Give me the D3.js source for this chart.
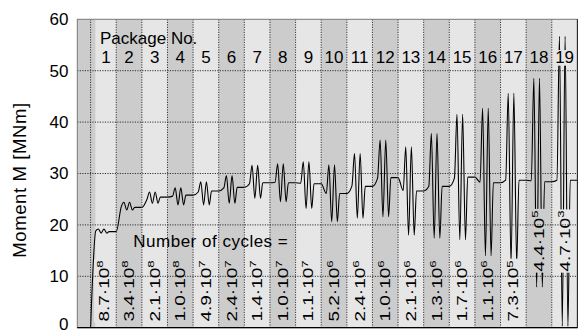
<!DOCTYPE html>
<html>
<head>
<meta charset="utf-8">
<script src="https://cdn.jsdelivr.net/npm/d3@7"></script>
<style>
  body { margin: 0; background: #fff; }
  svg { display: block; font-family: "Liberation Sans", Arial, Helvetica, sans-serif; }
</style>
</head>
<body>
<svg id="chart" width="588" height="333"></svg>
<script>
// Load packages of the test programme
const packages = d3.range(1, 20);

// Number of cycles per package, written as mantissa · 10^exponent
const cycleMantissa = ["8.7", "3.4", "2.1", "1.0", "4.9", "2.4", "1.4", "1.0", "1.1", "5.2",
                       "2.4", "1.0", "2.1", "1.3", "1.7", "1.1", "7.3", "4.4", "4.7"];
const cycleExponent = ["8", "8", "8", "8", "7", "7", "7", "7", "7", "6",
                       "6", "6", "6", "6", "6", "6", "5", "5", "3"];

// Moment levels in each package [MNm]
const rampLevel   = [18.8, 23.6, 25.0, 25.6, 26.4, 27.2, 28.0, 28.3, 28.1, 26.1,
                     27.6, 29.1, 26.7, 27.5, 29.1, 28.3, 28.7, 28.6, 28.7];
const peakLevel   = [19.2, 24.4, 26.4, 27.2, 28.4, 29.6, 31.6, 31.9, 32.3, 31.7,
                     33.9, 36.5, 35.2, 37.8, 41.5, 42.7, 45.6, 48.5, 56.7];
const troughLevel = [18.4, 22.9, 24.2, 23.9, 23.9, 24.2, 25.2, 24.5, 23.2, 20.6,
                     21.3, 21.6, 18.0, 17.4, 17.1, 14.0, 12.5, 7.9, 0.3];
const meanLevel   = [18.7, 23.4, 25.4, 25.8, 26.6, 27.3, 28.2, 28.2, 28.0, 26.1,
                     27.5, 29.2, 26.6, 27.5, 29.3, 28.2, 28.7, 28.4, 28.7];

// Position of ramp end, peak, trough, peak, trough and return within a package
const cyclePhase = [0.2, 0.3, 0.41, 0.52, 0.63, 0.72];

// Axis ticks
const yTicks = [0, 10, 20, 30, 40, 50, 60];

const svg = d3.select("#chart");
const margin = { left: 77.3, right: 10.6, top: 19.3, bottom: 5.3 };
const W = 588, H = 333;

const x = d3.scaleLinear().domain([-0.52, 19]).range([margin.left, W - margin.right]);
const y = d3.scaleLinear().domain([0, 60]).range([H - margin.bottom, margin.top]);

const DARK = "#cccccc", LIGHT = "#e6e6e6";

// Background bands: run-in section, then one band per package
const bands = [{ u0: x.domain()[0], u1: 0.2, fill: DARK }];
packages.forEach((p, i) => {
  bands.push({ u0: i === 0 ? 0.2 : i, u1: i + 1, fill: i % 2 === 0 ? LIGHT : DARK });
});

svg.append("clipPath").attr("id", "plot-clip")
  .append("rect")
  .attr("x", x.range()[0]).attr("y", y.range()[1])
  .attr("width", x.range()[1] - x.range()[0])
  .attr("height", y.range()[0] - y.range()[1]);

const plot = svg.append("g").attr("clip-path", "url(#plot-clip)");

plot.selectAll("rect.band").data(bands).join("rect")
  .attr("class", "band")
  .attr("x", d => x(d.u0)).attr("width", d => x(d.u1) - x(d.u0))
  .attr("y", y(60)).attr("height", y(0) - y(60))
  .attr("fill", d => d.fill);

// Moment time history
const pts = [];
packages.forEach((p, i) => {
  if (i === 0) pts.push([0, 0]);
  pts.push([i + cyclePhase[0], rampLevel[i]]);
  pts.push([i + cyclePhase[1], peakLevel[i]]);
  pts.push([i + cyclePhase[2], troughLevel[i]]);
  pts.push([i + cyclePhase[3], peakLevel[i]]);
  pts.push([i + cyclePhase[4], troughLevel[i]]);
  pts.push([i + cyclePhase[5], meanLevel[i]]);
  pts.push([i + 1, meanLevel[i]]);
});

const line = d3.line()
  .x(d => x(d[0])).y(d => y(d[1]))
  .curve(d3.curveMonotoneX);

plot.append("path")
  .datum(pts)
  .attr("d", line)
  .attr("fill", "none")
  .attr("stroke", "#000")
  .attr("stroke-width", 1.1)
  .attr("stroke-linejoin", "round");

// Label layers: boxes hide the curve, grid is drawn over boxes, text on top
const boxLayer = svg.append("g");
const gridLayer = svg.append("g");
const textLayer = svg.append("g");

// Cycle count labels, rotated, in each package column
const rotFont = 19, rotSquash = 0.74;
packages.forEach((p, i) => {
  const fill = bands[i + 1].fill;
  const cx = x(i === 0 ? 0.5 : i + 0.5);
  const base = p >= 18 ? y(10.9) : y(1.2);
  const tf = `translate(${cx},${base}) rotate(-90) scale(1,${rotSquash})`;
  const g = textLayer.append("g").attr("transform", tf);
  const t = g.append("text")
    .attr("x", 0).attr("y", rotFont * 0.36)
    .attr("font-size", rotFont)
    .attr("fill", "#000");
  t.append("tspan").text(cycleMantissa[i] + "\u00b7" + "10");
  t.append("tspan").attr("dy", -rotFont * 0.42).attr("font-size", rotFont * 0.7).text(cycleExponent[i]);
  const bb = t.node().getBBox();
  const top = rotFont * 0.36 - rotFont * 0.42 - rotFont * 0.7 * 0.72 - 2;
  boxLayer.append("rect")
    .attr("transform", tf)
    .attr("x", bb.x - 1).attr("y", top)
    .attr("width", bb.width + 2)
    .attr("height", rotFont * 0.36 - top + 2)
    .attr("fill", fill);
});

// Package numbers
const numFont = 17;
packages.forEach((p, i) => {
  const fill = bands[i + 1].fill;
  const cx = x(i === 0 ? 0.6 : i + 0.5);
  const base = 63.3;
  const t = textLayer.append("text")
    .attr("x", cx).attr("y", base)
    .attr("text-anchor", "middle")
    .attr("font-size", numFont)
    .attr("fill", "#000")
    .text(p);
  const bb = t.node().getBBox();
  boxLayer.append("rect")
    .attr("x", bb.x - 1).attr("y", base - numFont * 0.78)
    .attr("width", bb.width + 2).attr("height", numFont * 0.92)
    .attr("fill", fill);
});

textLayer.append("text")
  .attr("x", 100).attr("y", 43.5)
  .attr("font-size", 17)
  .text("Package No.");

textLayer.append("text")
  .attr("x", 133.3).attr("y", 247.3)
  .attr("font-size", 17)
  .attr("letter-spacing", 0.5)
  .text("Number of cycles =");

// Dotted grid: horizontal at the y ticks, vertical at package boundaries
gridLayer.selectAll("line.hgrid").data(yTicks.filter(v => v > 0 && v < 60)).join("line")
  .attr("x1", x.range()[0]).attr("x2", x.range()[1])
  .attr("y1", d => y(d)).attr("y2", d => y(d))
  .attr("stroke", "#333").attr("stroke-width", 1).attr("stroke-dasharray", "1.2,1.3");

gridLayer.selectAll("line.vgrid").data(d3.range(0, 19)).join("line")
  .attr("x1", d => x(d)).attr("x2", d => x(d))
  .attr("y1", y(60)).attr("y2", y(0))
  .attr("stroke", "#333").attr("stroke-width", 1).attr("stroke-dasharray", "1.2,1.3");

// Frame
gridLayer.append("rect")
  .attr("x", x.range()[0]).attr("y", y(60))
  .attr("width", x.range()[1] - x.range()[0]).attr("height", y(0) - y(60))
  .attr("fill", "none").attr("stroke", "#777").attr("stroke-width", 1);
gridLayer.append("line")
  .attr("x1", x.range()[0]).attr("x2", x.range()[1])
  .attr("y1", y(0)).attr("y2", y(0))
  .attr("stroke", "#000").attr("stroke-width", 1.3);
gridLayer.append("line")
  .attr("x1", x.range()[1]).attr("x2", x.range()[1])
  .attr("y1", y(60)).attr("y2", y(0))
  .attr("stroke", "#222").attr("stroke-width", 1);

// Y axis
const yAxis = d3.axisLeft(y).tickValues(yTicks).tickSize(0).tickPadding(8.8);
const ya = svg.append("g").attr("transform", `translate(${x.range()[0]},0)`).call(yAxis);
ya.select(".domain").remove();
ya.selectAll("text").attr("font-size", 17).attr("fill", "#000")
  .attr("font-family", "'Liberation Sans', Arial, sans-serif");
// keep the bottom tick label inside the page
ya.selectAll(".tick").filter(d => d === 0).select("text").attr("dy", "0.1em");

svg.append("text")
  .attr("transform", `translate(26,180) rotate(-90)`)
  .attr("text-anchor", "middle")
  .attr("font-size", 18.5)
  .attr("letter-spacing", 0.6)
  .text("Moment M [MNm]");
</script>
</body>
</html>
